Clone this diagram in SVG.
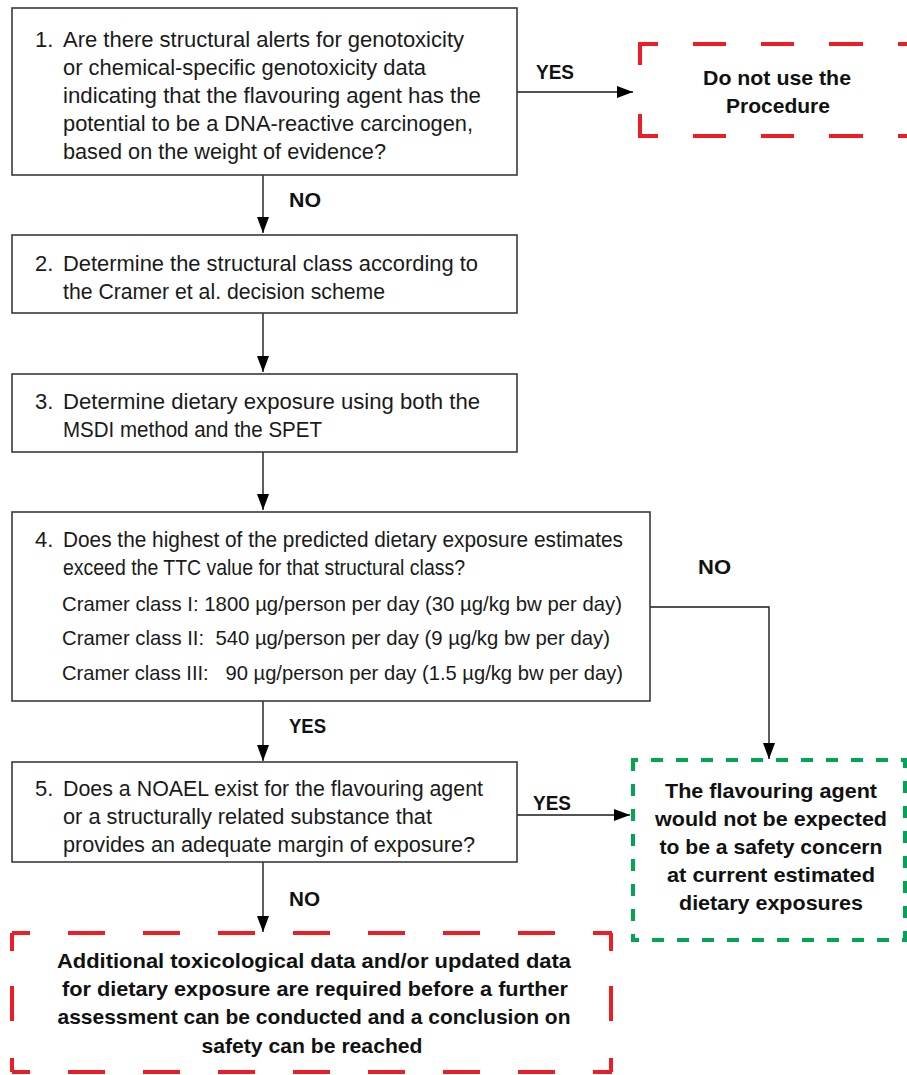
<svg xmlns="http://www.w3.org/2000/svg" width="907" height="1075" viewBox="0 0 907 1075">
<style>
.box{fill:#fff;stroke:#3a3a3a;stroke-width:1.6}
.t{font-family:"Liberation Sans",Arial,sans-serif;font-size:22px;fill:#1a1a1a}
.s{font-family:"Liberation Sans",Arial,sans-serif;font-size:21px;fill:#1a1a1a;white-space:pre}
.b{font-family:"Liberation Sans",Arial,sans-serif;font-size:20px;font-weight:bold;fill:#111}
.bc{font-family:"Liberation Sans",Arial,sans-serif;font-size:21px;font-weight:bold;fill:#111;text-anchor:middle}
.red{fill:none;stroke:#ee1c24;stroke-width:4}
.grn{fill:none;stroke:#00a651;stroke-width:4}
.con{fill:none;stroke:#1a1a1a;stroke-width:1.4}
</style>
<defs>
<marker id="ah" markerUnits="userSpaceOnUse" markerWidth="16" markerHeight="12" refX="16" refY="6" orient="auto">
<path d="M0,0 L16,6 L0,12 z" fill="#000"/>
</marker>
</defs>

<g id="connectors">
<path class="con" d="M517,92 H633" marker-end="url(#ah)"/>
<path class="con" d="M263,175 V233" marker-end="url(#ah)"/>
<path class="con" d="M263,313 V372" marker-end="url(#ah)"/>
<path class="con" d="M263,452 V510" marker-end="url(#ah)"/>
<path class="con" d="M263,701 V761" marker-end="url(#ah)"/>
<path class="con" d="M650,607 H769 V759" marker-end="url(#ah)"/>
<path class="con" d="M517,815 H630" marker-end="url(#ah)"/>
<path class="con" d="M263,862 V932" marker-end="url(#ah)"/>
<text class="b" x="536" y="79" textLength="38" lengthAdjust="spacingAndGlyphs">YES</text>
<text class="b" x="289" y="207" textLength="32" lengthAdjust="spacingAndGlyphs">NO</text>
<text class="b" x="698" y="574" textLength="33" lengthAdjust="spacingAndGlyphs">NO</text>
<text class="b" x="289" y="733" textLength="37" lengthAdjust="spacingAndGlyphs">YES</text>
<text class="b" x="533" y="810" textLength="38" lengthAdjust="spacingAndGlyphs">YES</text>
<text class="b" x="289" y="906" textLength="31" lengthAdjust="spacingAndGlyphs">NO</text>
</g>

<g id="node1">
<rect class="box" x="12" y="8" width="505" height="167"/>
<text class="t" x="35" y="47">1.</text>
<text class="t" x="63" y="47" textLength="401" lengthAdjust="spacingAndGlyphs">Are there structural alerts for genotoxicity</text>
<text class="t" x="63" y="75" textLength="363" lengthAdjust="spacingAndGlyphs">or chemical-specific genotoxicity data</text>
<text class="t" x="63" y="103" textLength="418" lengthAdjust="spacingAndGlyphs">indicating that the flavouring agent has the</text>
<text class="t" x="63" y="131" textLength="410" lengthAdjust="spacingAndGlyphs">potential to be a DNA-reactive carcinogen,</text>
<text class="t" x="63" y="159" textLength="323" lengthAdjust="spacingAndGlyphs">based on the weight of evidence?</text>
</g>

<g id="node-stop1">
<path class="red" d="M640,65 V44 H658"/>
<path class="red" d="M693,44 H726 M761,44 H794 M829,44 H863 M898,44 H931"/>
<path class="red" d="M640,114 V136 H658"/>
<path class="red" d="M693,136 H726 M761,136 H794 M829,136 H863 M898,136 H931"/>
<text class="bc" x="777" y="85" textLength="148" lengthAdjust="spacingAndGlyphs">Do not use the</text>
<text class="bc" x="778" y="113" textLength="104" lengthAdjust="spacingAndGlyphs">Procedure</text>
</g>

<g id="node2">
<rect class="box" x="12" y="235" width="505" height="78"/>
<text class="t" x="35" y="271">2.</text>
<text class="t" x="63" y="271" textLength="415" lengthAdjust="spacingAndGlyphs">Determine the structural class according to</text>
<text class="t" x="63" y="299" textLength="322" lengthAdjust="spacingAndGlyphs">the Cramer et al. decision scheme</text>
</g>

<g id="node3">
<rect class="box" x="12" y="374" width="505" height="78"/>
<text class="t" x="35" y="409">3.</text>
<text class="t" x="63" y="409" textLength="417" lengthAdjust="spacingAndGlyphs">Determine dietary exposure using both the</text>
<text class="t" x="63" y="437" textLength="259" lengthAdjust="spacingAndGlyphs">MSDI method and the SPET</text>
</g>

<g id="node4">
<rect class="box" x="12" y="512" width="638" height="189"/>
<text class="t" x="35" y="547">4.</text>
<text class="t" x="63" y="547" textLength="560" lengthAdjust="spacingAndGlyphs">Does the highest of the predicted dietary exposure estimates</text>
<text class="t" x="63" y="575" textLength="402" lengthAdjust="spacingAndGlyphs">exceed the TTC value for that structural class?</text>
<text class="s" x="62" y="611" textLength="560" lengthAdjust="spacingAndGlyphs">Cramer class I: 1800 µg/person per day (30 µg/kg bw per day)</text>
<text class="s" x="62" y="645" textLength="548" lengthAdjust="spacingAndGlyphs">Cramer class II:  540 µg/person per day (9 µg/kg bw per day)</text>
<text class="s" x="62" y="680" textLength="561" lengthAdjust="spacingAndGlyphs">Cramer class III:   90 µg/person per day (1.5 µg/kg bw per day)</text>
</g>

<g id="node5">
<rect class="box" x="12" y="762" width="505" height="100"/>
<text class="t" x="35" y="796">5.</text>
<text class="t" x="63" y="796" textLength="420" lengthAdjust="spacingAndGlyphs">Does a NOAEL exist for the flavouring agent</text>
<text class="t" x="63" y="824" textLength="369" lengthAdjust="spacingAndGlyphs">or a structurally related substance that</text>
<text class="t" x="63" y="852" textLength="412" lengthAdjust="spacingAndGlyphs">provides an adequate margin of exposure?</text>
</g>

<g id="node-safe">
<path class="grn" d="M633,760 H905 V940 H633 Z" stroke-dasharray="12 13" stroke-dashoffset="7"/>
<text class="bc" x="771" y="798" textLength="212" lengthAdjust="spacingAndGlyphs">The flavouring agent</text>
<text class="bc" x="771" y="826" textLength="232" lengthAdjust="spacingAndGlyphs">would not be expected</text>
<text class="bc" x="771" y="854" textLength="223" lengthAdjust="spacingAndGlyphs">to be a safety concern</text>
<text class="bc" x="771" y="882" textLength="208" lengthAdjust="spacingAndGlyphs">at current estimated</text>
<text class="bc" x="771" y="910" textLength="184" lengthAdjust="spacingAndGlyphs">dietary exposures</text>
</g>

<g id="node-stop2">
<path class="red" d="M12,933 H612" stroke-dasharray="37 38" stroke-dashoffset="19"/>
<path class="red" d="M12,1072 H612" stroke-dasharray="37 38" stroke-dashoffset="19"/>
<path class="red" d="M12,933 V1072" stroke-dasharray="18 35 35 37 20"/>
<path class="red" d="M611,933 V1072" stroke-dasharray="18 35 35 37 20"/>
<text class="bc" x="314" y="968" textLength="514" lengthAdjust="spacingAndGlyphs">Additional toxicological data and/or updated data</text>
<text class="bc" x="315" y="996" textLength="506" lengthAdjust="spacingAndGlyphs">for dietary exposure are required before a further</text>
<text class="bc" x="314" y="1024" textLength="513" lengthAdjust="spacingAndGlyphs">assessment can be conducted and a conclusion on</text>
<text class="bc" x="312" y="1053" textLength="221" lengthAdjust="spacingAndGlyphs">safety can be reached</text>
</g>
</svg>
